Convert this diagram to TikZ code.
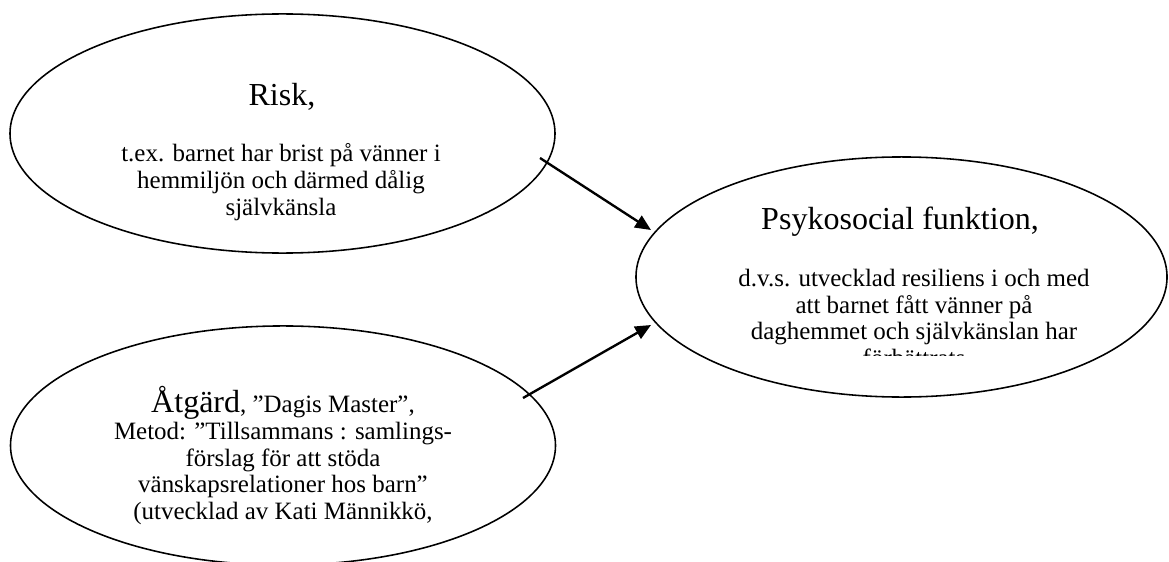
\documentclass[tikz,border=0pt]{standalone}
\usepackage{fontspec}
\setmainfont{Liberation Serif}
\usetikzlibrary{arrows.meta, shapes.geometric}

\begin{document}
\begin{tikzpicture}[x=0.509pt, y=-0.509pt,
            bubble/.style={ellipse, draw, line width=0.8pt, inner sep=0pt},
            heading/.style={font=\fontsize{16.3}{18}\selectfont, inner sep=0pt},
            body/.style={font=\fontsize{12.7}{13.6}\selectfont, align=center, inner sep=0pt},
            link/.style={line width=1.2pt, -{Triangle[length=8pt, width=7pt]}}]
        \useasboundingbox (0,0) rectangle (1169,562);
        % the three ellipses
        \node[bubble, minimum width=277.4pt, minimum height=121.7pt] (risk) at (282.5,133.5) {};
        \node[bubble, minimum width=270.3pt, minimum height=122.2pt] (psyko) at (901.5,277) {};
        \node[bubble, minimum width=277.4pt, minimum height=121.7pt] (atgard) at (283,445.5) {};
        % texts
        \node[heading] (risktitle) at (282,97) {Risk,};
        \node[body] (risktext) at (281,182) {t.ex. barnet har brist på vänner i\\hemmiljön och därmed dålig\\självkänsla};
        \node[heading] (psykotitle) at (900,222) {Psykosocial funktion,};
        \begin{scope}
            \clip (640,240) rectangle (1160,355);
            \node[body] (psykotext) at (914,318) {d.v.s. utvecklad resiliens i och med\\att barnet fått vänner på\\daghemmet och självkänslan har\\förbättrats};
        \end{scope}
        \begin{scope}
            \clip (20,380) rectangle (550,527);
            \node[body] (atgardtext) at (283,469) {{\fontsize{16.3}{18}\selectfont Åtgärd}, ”Dagis Master”,\\Metod: ”Tillsammans : samlings-\\förslag för att stöda\\vänskapsrelationer hos barn”\\(utvecklad av Kati Männikkö,\\2005)};
        \end{scope}
        % arrows into the outcome
        \coordinate (riskout) at (540,158);
        \coordinate (atgardout) at (523,398);
        \coordinate (psykoin1) at (651,230);
        \coordinate (psykoin2) at (651,325);
        \draw[link] (riskout) -- (psykoin1);
        \draw[link] (atgardout) -- (psykoin2);
\end{tikzpicture}
\end{document}
